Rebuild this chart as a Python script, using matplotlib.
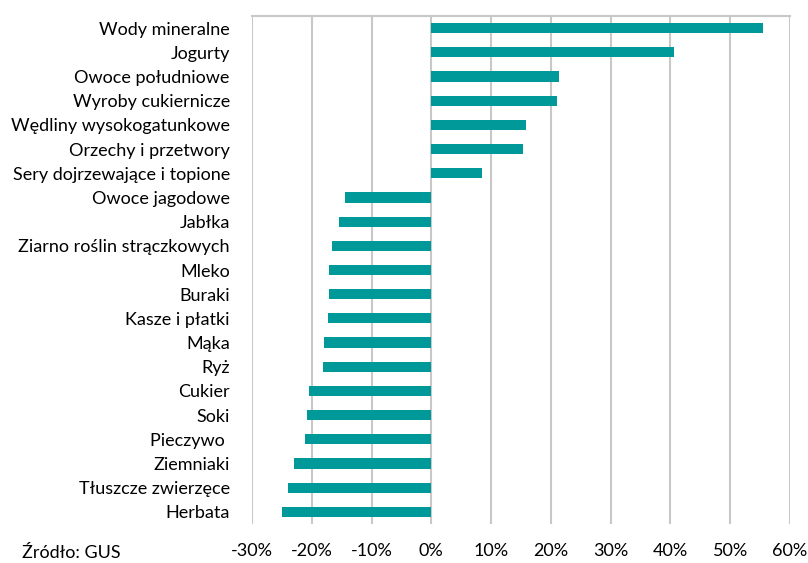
import matplotlib
matplotlib.use("Agg")
import matplotlib.pyplot as plt
from matplotlib.ticker import FuncFormatter

categories = [
    "Wody mineralne", "Jogurty", "Owoce południowe", "Wyroby cukiernicze",
    "Wędliny wysokogatunkowe", "Orzechy i przetwory", "Sery dojrzewające i topione",
    "Owoce jagodowe", "Jabłka", "Ziarno roślin strączkowych", "Mleko", "Buraki",
    "Kasze i płatki", "Mąka", "Ryż", "Cukier", "Soki", "Pieczywo ", "Ziemniaki",
    "Tłuszcze zwierzęce", "Herbata",
]
values = [55.4, 40.6, 21.4, 21.1, 15.8, 15.4, 8.4,
          -14.5, -15.4, -16.6, -17.1, -17.1, -17.3, -17.9, -18.2,
          -20.4, -20.8, -21.2, -23.0, -23.9, -24.9]
xticks = [-30, -20, -10, 0, 10, 20, 30, 40, 50, 60]
source = "Źródło: GUS"

plt.rcParams['font.family'] = ['Lato', 'DejaVu Sans']

fig = plt.figure(figsize=(8.08, 5.63), dpi=100)
ax = fig.add_axes([252/808, 1-524/563, (790-252)/808, (524-16)/563])

y = list(range(len(categories)))
ax.barh(y, values, height=0.42, color="#009999", zorder=3)
ax.set_ylim(len(categories)-0.5, -0.5)
ax.set_xlim(-30, 60)
ax.set_xticks(xticks)
ax.xaxis.set_major_formatter(FuncFormatter(lambda v, p: f"{v:.0f}%"))
ax.set_yticks(y)
ax.set_yticklabels(categories)
ax.tick_params(axis='y', length=0, pad=16, labelsize=13)
ax.tick_params(axis='x', length=0, pad=14, labelsize=13)
ax.grid(axis='x', color="#c8c8c8", linewidth=1.5, zorder=0)
for s in ['left', 'right', 'bottom']:
    ax.spines[s].set_visible(False)
ax.spines['top'].set_color("#c8c8c8")
ax.spines['top'].set_linewidth(1.5)

fig.text(22/808, 2/563, source, fontsize=13, va='bottom', ha='left')

fig.savefig("out.png", dpi=100)
